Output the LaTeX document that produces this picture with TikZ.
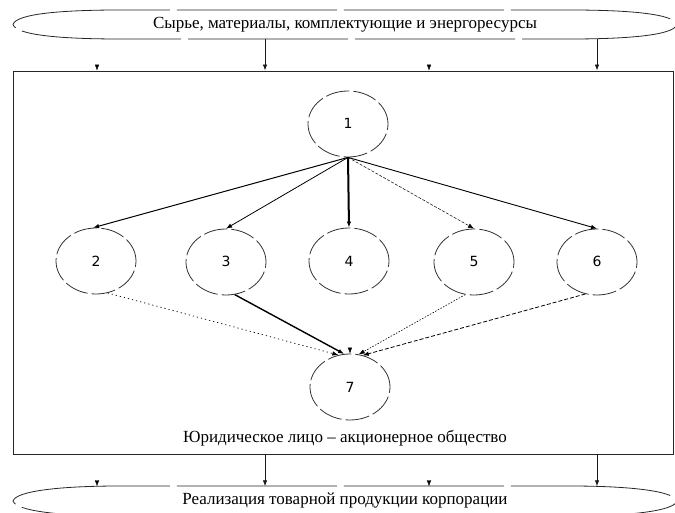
\documentclass[tikz,border=0pt]{standalone}
\usepackage{fontspec}
\setmainfont{Liberation Serif}
\newfontfamily\digitfont{DejaVu Sans}
\usetikzlibrary{shapes.geometric,arrows.meta}
\begin{document}
\begin{tikzpicture}[x=1pt,y=-1pt,
  lbl/.style={font=\fontsize{17}{19}\selectfont, inner sep=0pt},
  ovalline/.style={draw=black!85, line width=0.8pt, dash pattern=on 160pt off 7pt},
  band/.style={minimum width=664pt, minimum height=29pt, inner sep=0pt, lbl},
  unit/.style={draw=black!80, line width=0.8pt, dash pattern=on 24pt off 4pt,
    ellipse, minimum width=80pt, minimum height=66pt, inner sep=0pt,
    text height=10pt, text depth=0pt,
    font=\digitfont\fontsize{14}{16}\selectfont},
  tip/.style={-{Latex[length=6pt,width=4.5pt]}},
  ghost/.style={tip, dash pattern=on 0pt off 400pt},
  feed/.style={tip, line width=0.8pt, draw=black!90},
]
\useasboundingbox (0,0) rectangle (675,513);

% supply band, enterprise frame and sales band
\node[band] (src) at (345,24.5) {Сырье, материалы, комплектующие и энергоресурсы};
\draw[ovalline] (13,24.5) .. controls (16,14) and (60,10) .. (120,10) -- (570,10)
  .. controls (630,10) and (674,14) .. (677,24.5) .. controls (674,35) and (630,39) .. (570,39)
  -- (120,39) .. controls (60,39) and (16,35) .. (13,24.5);

\node[draw=black!85, line width=0.8pt, minimum width=660pt, minimum height=383pt,
  inner sep=0pt] (corp) at (343,262.5) {};
\node[lbl, anchor=base] (corpname) at (345,442) {Юридическое лицо – акционерное общество};

\node[band] (sales) at (345,501) {Реализация товарной продукции корпорации};
\draw[ovalline] (13,501) .. controls (16,491) and (60,486) .. (120,486) -- (570,486)
  .. controls (630,486) and (674,491) .. (677,501) .. controls (674,511) and (630,516) .. (570,516)
  -- (120,516) .. controls (60,516) and (16,511) .. (13,501);

% inflows and outflows
\foreach \x in {265,597} {
  \draw[feed] (src.south -| \x,0) -- (corp.north -| \x,0);
  \draw[feed] (corp.south -| \x,0) -- (sales.north -| \x,0);
}
\foreach \x in {97,429} {
  \draw[ghost] (src.south -| \x,0) -- (corp.north -| \x,0);
  \draw[ghost] (corp.south -| \x,0) -- (sales.north -| \x,0);
}

% units of the company
\node[unit] (c1) at (348,124) {1};
\node[unit] (c2) at (96,261) {2};
\node[unit] (c3) at (226,262) {3};
\node[unit] (c4) at (349,261) {4};
\node[unit] (c5) at (474,262) {5};
\node[unit] (c6) at (597,262) {6};
\node[unit] (c7) at (350,387) {7};

% links from the head unit
\draw[tip, line width=1pt] (c1.south) -- (c2.95);
\draw[tip, line width=0.8pt] (c1.south) -- (c3.north);
\draw[tip, line width=2pt] (c1.south) -- (c4.north);
\draw[tip, line width=0.5pt, dash pattern=on 3pt off 1.5pt] (c1.south) -- (c5.north);
\draw[tip, line width=0.9pt] (c1.south) -- (c6.north);

% links into the final unit
\draw[tip, line width=0.7pt, dash pattern=on 1.2pt off 3pt] (c2.-70) -- (c7.110);
\draw[tip, line width=1.4pt] (c3.-75) -- (c7.100);
\draw[ghost] (c4.south) -- (c7.north);
\draw[tip, line width=0.6pt, dash pattern=on 1.5pt off 1.5pt] (c5.-105) -- (c7.75);
\draw[tip, line width=0.8pt, dash pattern=on 4pt off 2pt] (c6.-110) -- (c7.68);
\end{tikzpicture}
\end{document}
